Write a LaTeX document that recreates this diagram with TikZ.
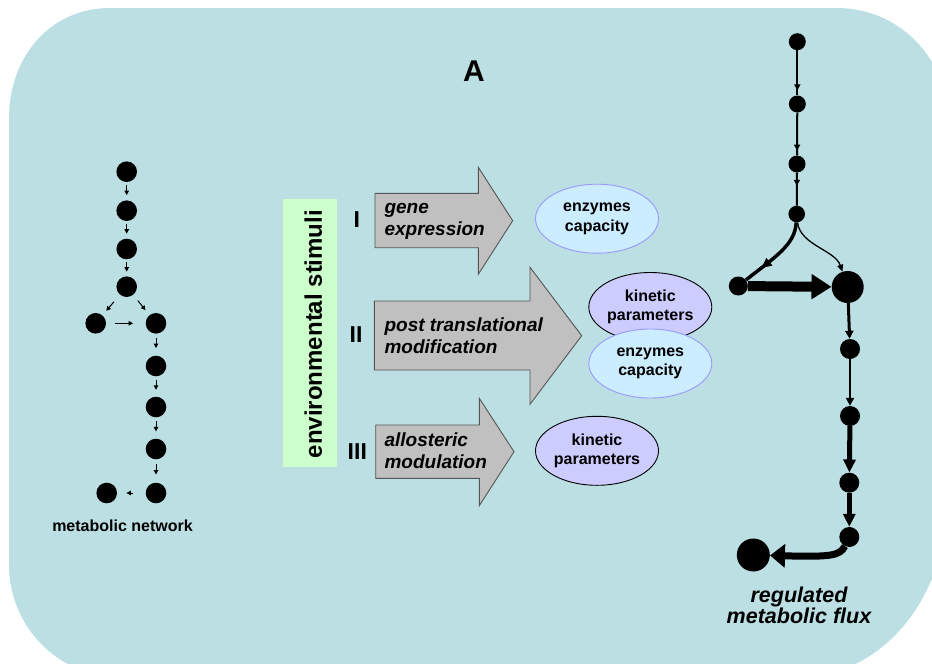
\documentclass[tikz,border=0pt]{standalone}
\usepackage{fontspec}
\setmainfont{Liberation Sans}
\usetikzlibrary{arrows.meta,calc,decorations.markings,shapes.geometric}
\definecolor{bgc}{HTML}{BBDFE3}
\definecolor{stimc}{HTML}{CCFFCC}
\definecolor{arrfill}{HTML}{C0C0C0}
\definecolor{arrdraw}{HTML}{555555}
\definecolor{capfill}{HTML}{CCECFF}
\definecolor{capdraw}{HTML}{9999FF}
\definecolor{kinfill}{HTML}{CCCCFF}
\newcommand{\fsz}[2]{\fontsize{#1}{#2}\selectfont}
\begin{document}
\begin{tikzpicture}[x=1pt,y=-1pt,
  ldot/.style={circle,fill=black,inner sep=0pt,minimum size=20.6pt},
  rdot/.style={circle,fill=black,inner sep=0pt,minimum size=#1},
  larr/.style={line width=1pt,-{Triangle[length=4.5pt,width=4.5pt]}},
  garrow/.style={fill=arrfill,draw=arrdraw,line width=0.9pt,line join=miter},
  gtext/.style={anchor=west,align=left,font=\bfseries\itshape\fsz{19}{21.7}},
  roman/.style={font=\bfseries\fsz{23}{26}},
  ell/.style={ellipse,inner sep=0pt,minimum width=123pt,minimum height=69pt,align=center,font=\bfseries\fsz{16}{19.3},line width=0.9pt},
  capell/.style={ell,fill=capfill,draw=capdraw},
  kinell/.style={ell,fill=kinfill,draw=black},
  markarr/.style={postaction={decorate},decoration={markings,mark=at position #1 with {\arrow{Triangle[length=6pt,width=6pt]}}}},
  bigmarkarr/.style={postaction={decorate},decoration={markings,mark=at position #1 with {\arrow{Triangle[length=10pt,width=9pt]}}}}
]
\useasboundingbox (0,0) rectangle (932,664);
% background
\fill[bgc] (9,118) .. controls (9,57) and (50,8) .. (110,8) -- (837,8)
  .. controls (898,8) and (947,57) .. (947,118) -- (947,500)
  .. controls (947,600) and (880,677) .. (800,677) -- (119,677)
  .. controls (58,677) and (9,626) .. (9,565) -- cycle;

\node[font=\bfseries\fsz{30}{34}] (title) at (474,71) {A};

% left metabolic network
\node[ldot] (n1) at (126.7,171.7) {};
\node[ldot] (n2) at (126.7,210.7) {};
\node[ldot] (n3) at (126.7,249) {};
\node[ldot] (n4) at (126.7,286.7) {};
\node[ldot] (n5) at (95.7,323.3) {};
\node[ldot] (n6) at (156,323.3) {};
\node[ldot] (n7) at (156,366) {};
\node[ldot] (n8) at (156,407) {};
\node[ldot] (n9) at (156,449) {};
\node[ldot] (n10) at (156,493) {};
\node[ldot] (n11) at (106.7,493) {};
\draw[larr] ($(n1)!0.34!(n2)$) -- ($(n1)!0.6!(n2)$);
\draw[larr] ($(n2)!0.34!(n3)$) -- ($(n2)!0.6!(n3)$);
\draw[larr] ($(n3)!0.34!(n4)$) -- ($(n3)!0.6!(n4)$);
\draw[larr] ($(n4)!0.41!(n5)$) -- ($(n4)!0.66!(n5)$);
\draw[larr] ($(n4)!0.38!(n6)$) -- ($(n4)!0.64!(n6)$);
\draw[larr] ($(n5)!0.32!(n6)$) -- ($(n5)!0.62!(n6)$);
\draw[larr] ($(n6)!0.34!(n7)$) -- ($(n6)!0.58!(n7)$);
\draw[larr] ($(n7)!0.34!(n8)$) -- ($(n7)!0.58!(n8)$);
\draw[larr] ($(n8)!0.34!(n9)$) -- ($(n8)!0.58!(n9)$);
\draw[larr] ($(n9)!0.34!(n10)$) -- ($(n9)!0.58!(n10)$);
\draw[larr] ($(n10)!0.46!(n11)$) -- ($(n10)!0.6!(n11)$);
\node[font=\bfseries\fsz{16}{18}] (netlabel) at (122.5,525.5) {metabolic network};

% environmental stimuli
\node[fill=stimc,minimum width=53.4pt,minimum height=267.7pt,inner sep=0pt] (stimbox) at (310,332.9) {};
\node[rotate=90,font=\bfseries\fsz{24}{27}] (stimtext) at (313.3,334) {environmental stimuli};

\node[roman] (r-one) at (356.7,220) {I};
\node[roman] (r-two) at (356,335) {II};
\node[roman] (r-three) at (357.3,451.7) {III};

% grey block arrows
\draw[garrow] (375,193.3) -- (478.3,193.3) -- (478.3,167.3) -- (512.7,220.7) -- (478.3,274.3) -- (478.3,247.7) -- (375,247.7) -- cycle;
\draw[garrow] (374.3,301) -- (530,301) -- (530,267.3) -- (581.7,335.7) -- (530,404.3) -- (530,370) -- (374.3,370) -- cycle;
\draw[garrow] (375.7,425) -- (479.3,425) -- (479.3,398.3) -- (514,451.7) -- (479.3,505.7) -- (479.3,478.3) -- (375.7,478.3) -- cycle;
\node[gtext] (t-one) at (381,221.5) {gene\\expression};
\node[gtext] (t-two) at (381,335.5) {post translational\\modification};
\node[gtext] (t-three) at (381,450.5) {allosteric\\modulation};

% ellipses
\node[capell] (cap1) at (597,218.7) {enzymes\\capacity};
\node[kinell] (kin2) at (650.3,307) {kinetic\\parameters};
\node[capell] (cap2) at (650.3,363.5) {enzymes\\capacity};
\node[kinell] (kin1) at (597,450.8) {kinetic\\parameters};

% right regulated flux network
\node[rdot=17pt] (r1) at (797.3,41.7) {};
\node[rdot=17pt] (r2) at (797.3,104) {};
\node[rdot=17pt] (r3) at (797,164) {};
\node[rdot=16.6pt] (r4) at (796.7,214) {};
\node[rdot=19pt] (L) at (738.3,286) {};
\node[rdot=32pt] (B) at (847.7,287) {};
\node[rdot=20pt] (r6) at (850,349) {};
\node[rdot=20pt] (r7) at (850,416) {};
\node[rdot=20pt] (r8) at (849.3,482.7) {};
\node[rdot=20pt] (r9) at (849.3,537) {};
\node[rdot=33pt] (E) at (753.3,555) {};

\draw[line width=2pt,markarr=0.89] (r1) -- (r2);
\draw[line width=2pt,markarr=0.89] (r2) -- (r3);
\draw[line width=2pt,markarr=0.4] (r3) -- (r4);
\draw[line width=3.5pt,bigmarkarr=0.75] (r4) .. controls (795,245) and (775,257) .. (L);
\draw[line width=1.3pt,-{Triangle[length=7pt,width=6pt]}] (r4) .. controls (800,245) and (835,250) .. (B);
\draw[line width=10pt,-{Triangle[length=20pt,width=24pt]}] (L) -- (B);
\draw[line width=3pt,-{Triangle[length=8pt,width=8pt]}] (B) -- (r6);
\draw[line width=2.5pt,-{Triangle[length=8pt,width=8pt]}] (r6) -- (r7);
\draw[line width=5pt,-{Triangle[length=13pt,width=12pt]}] (r7) -- (r8);
\draw[line width=5pt,-{Triangle[length=13pt,width=12pt]}] (r8) -- (r9);
\draw[line width=7pt,-{Triangle[length=15pt,width=23pt]}] (r9) .. controls (840,556) and (830,557) .. (E);
\node[align=center,font=\bfseries\itshape\fsz{21.5}{21.5}] (fluxlabel) at (799,605.5) {regulated\\metabolic flux};
\end{tikzpicture}
\end{document}
